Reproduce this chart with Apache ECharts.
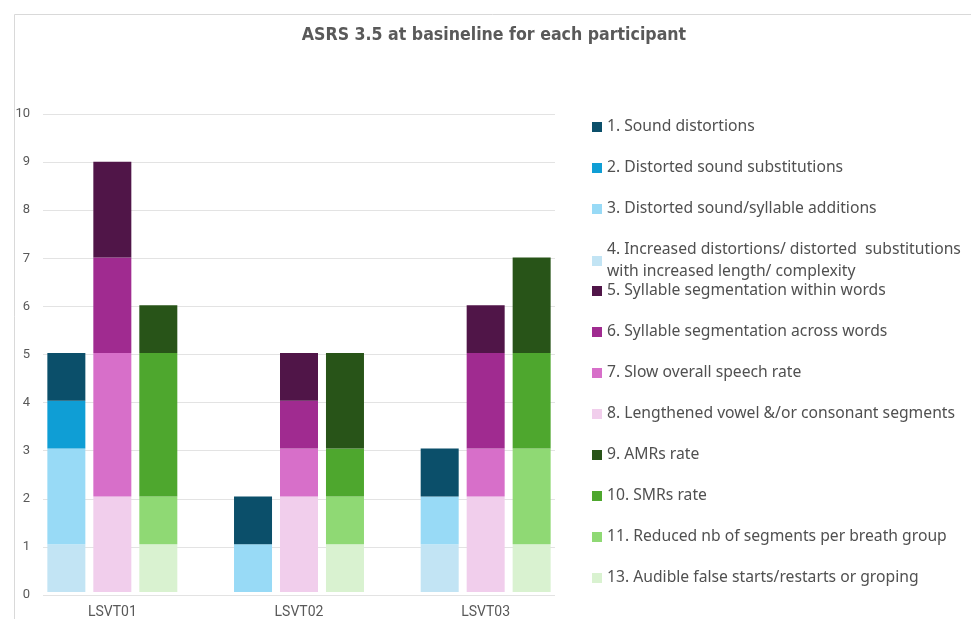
<!DOCTYPE html>
<html>
<head>
<meta charset="utf-8">
<script src="https://cdn.jsdelivr.net/npm/echarts@6/dist/echarts.min.js"></script>
<style>
html,body{margin:0;padding:0;background:#fff;}
#main{width:971px;height:619px;}
</style>
</head>
<body>
<div id="main"></div>
<script>
// participants
var participants = ['LSVT01', 'LSVT02', 'LSVT03'];
var yTicks = [0, 1, 2, 3, 4, 5, 6, 7, 8, 9, 10];

// ASRS items, scores per participant
var item1 = [1, 1, 1];
var item2 = [1, 0, 0];
var item3 = [2, 1, 1];
var item4 = [1, 0, 1];
var item5 = [2, 1, 1];
var item6 = [2, 1, 2];
var item7 = [3, 1, 1];
var item8 = [2, 2, 2];
var item9 = [1, 2, 2];
var item10 = [3, 1, 2];
var item11 = [1, 1, 2];
var item13 = [1, 1, 1];

var names = [
	'1. Sound distortions',
	'2. Distorted sound substitutions',
	'3. Distorted sound/syllable additions',
	'4. Increased distortions/ distorted  substitutions\nwith increased length/ complexity',
	'5. Syllable segmentation within words',
	'6. Syllable segmentation across words',
	'7. Slow overall speech rate',
	'8. Lengthened vowel &/or consonant segments',
	'9. AMRs rate',
	'10. SMRs rate',
	'11. Reduced nb of segments per breath group',
	'13. Audible false starts/restarts or groping'
];
var colors = ['#0b4f6a', '#0f9ed5', '#98daf6', '#c2e4f4', '#501548', '#a02b90', '#d76fc9', '#f1ceec', '#285418', '#4ea72e', '#8fd974', '#d9f2d0'];
var values = [item1, item2, item3, item4, item5, item6, item7, item8, item9, item10, item11, item13];
var stacks = ['a', 'a', 'a', 'a', 'b', 'b', 'b', 'b', 'c', 'c', 'c', 'c'];

// bottom of each stack is the last item of its group
var order = [3, 2, 1, 0, 7, 6, 5, 4, 11, 10, 9, 8];
var series = [];
for (var k = 0; k < order.length; k++) {
	var i = order[k];
	series.push({
		name: names[i],
		type: 'bar',
		stack: stacks[i],
		xAxisIndex: 1,
		yAxisIndex: 1,
		barWidth: 38,
		barGap: '21%',
		itemStyle: { color: colors[i] },
		data: values[i]
	});
}

var txt = '#595959';
var legendText = { color: '#505050', fontSize: 15.7, fontFamily: 'Noto Sans', lineHeight: 20 };

var option = {
	animation: false,
	title: {
		text: 'ASRS 3.5 at basineline for each participant',
		left: 489,
		top: 21,
		textAlign: 'center',
		textStyle: { color: txt, fontSize: 17.6, fontWeight: 'bold', fontFamily: 'DejaVu Sans Condensed' }
	},
	graphic: [{
		type: 'polyline',
		shape: { points: [[14.5, 619], [14.5, 14.5], [971, 14.5]] },
		style: { stroke: '#d9d9d9', lineWidth: 1, fill: null }
	}],
	legend: [{
		orient: 'vertical', left: 587, top: 112, itemWidth: 10, itemHeight: 10, itemGap: 21,
		icon: 'rect', textStyle: legendText,
		data: names.slice(0, 3)
	}, {
		orient: 'vertical', left: 587, top: 234, itemWidth: 10, itemHeight: 10,
		icon: 'rect', textStyle: { color: '#505050', fontSize: 15.7, fontFamily: 'Noto Sans', lineHeight: 22 },
		data: names.slice(3, 4)
	}, {
		orient: 'vertical', left: 587, top: 276, itemWidth: 10, itemHeight: 10, itemGap: 21,
		icon: 'rect', textStyle: legendText,
		data: names.slice(4)
	}],
	grid: [
		{ left: 43, right: 416, top: 114, bottom: 24 },
		{ left: 19, right: 392, top: 114, bottom: 24 }
	],
	xAxis: [
		{ type: 'value', gridIndex: 0, show: false },
		{
			type: 'category', gridIndex: 1, data: participants,
			axisLine: { show: false }, axisTick: { show: false },
			axisLabel: { color: txt, fontSize: 14, fontFamily: 'Roboto', margin: 13 }
		}
	],
	yAxis: [
		{
			type: 'value', gridIndex: 0, min: yTicks[0], max: yTicks[yTicks.length - 1], interval: 1,
			axisLine: { show: false }, axisTick: { show: false },
			axisLabel: { color: txt, fontSize: 13, fontFamily: 'Roboto', margin: 13 },
			splitLine: { lineStyle: { color: '#e3e3e3', width: 1 } }
		},
		{ type: 'value', gridIndex: 1, min: 0, max: 10, show: false, splitLine: { show: false } }
	],
	series: series
};

var myChart = echarts.init(document.getElementById('main'));
myChart.setOption(option);
</script>
</body>
</html>
